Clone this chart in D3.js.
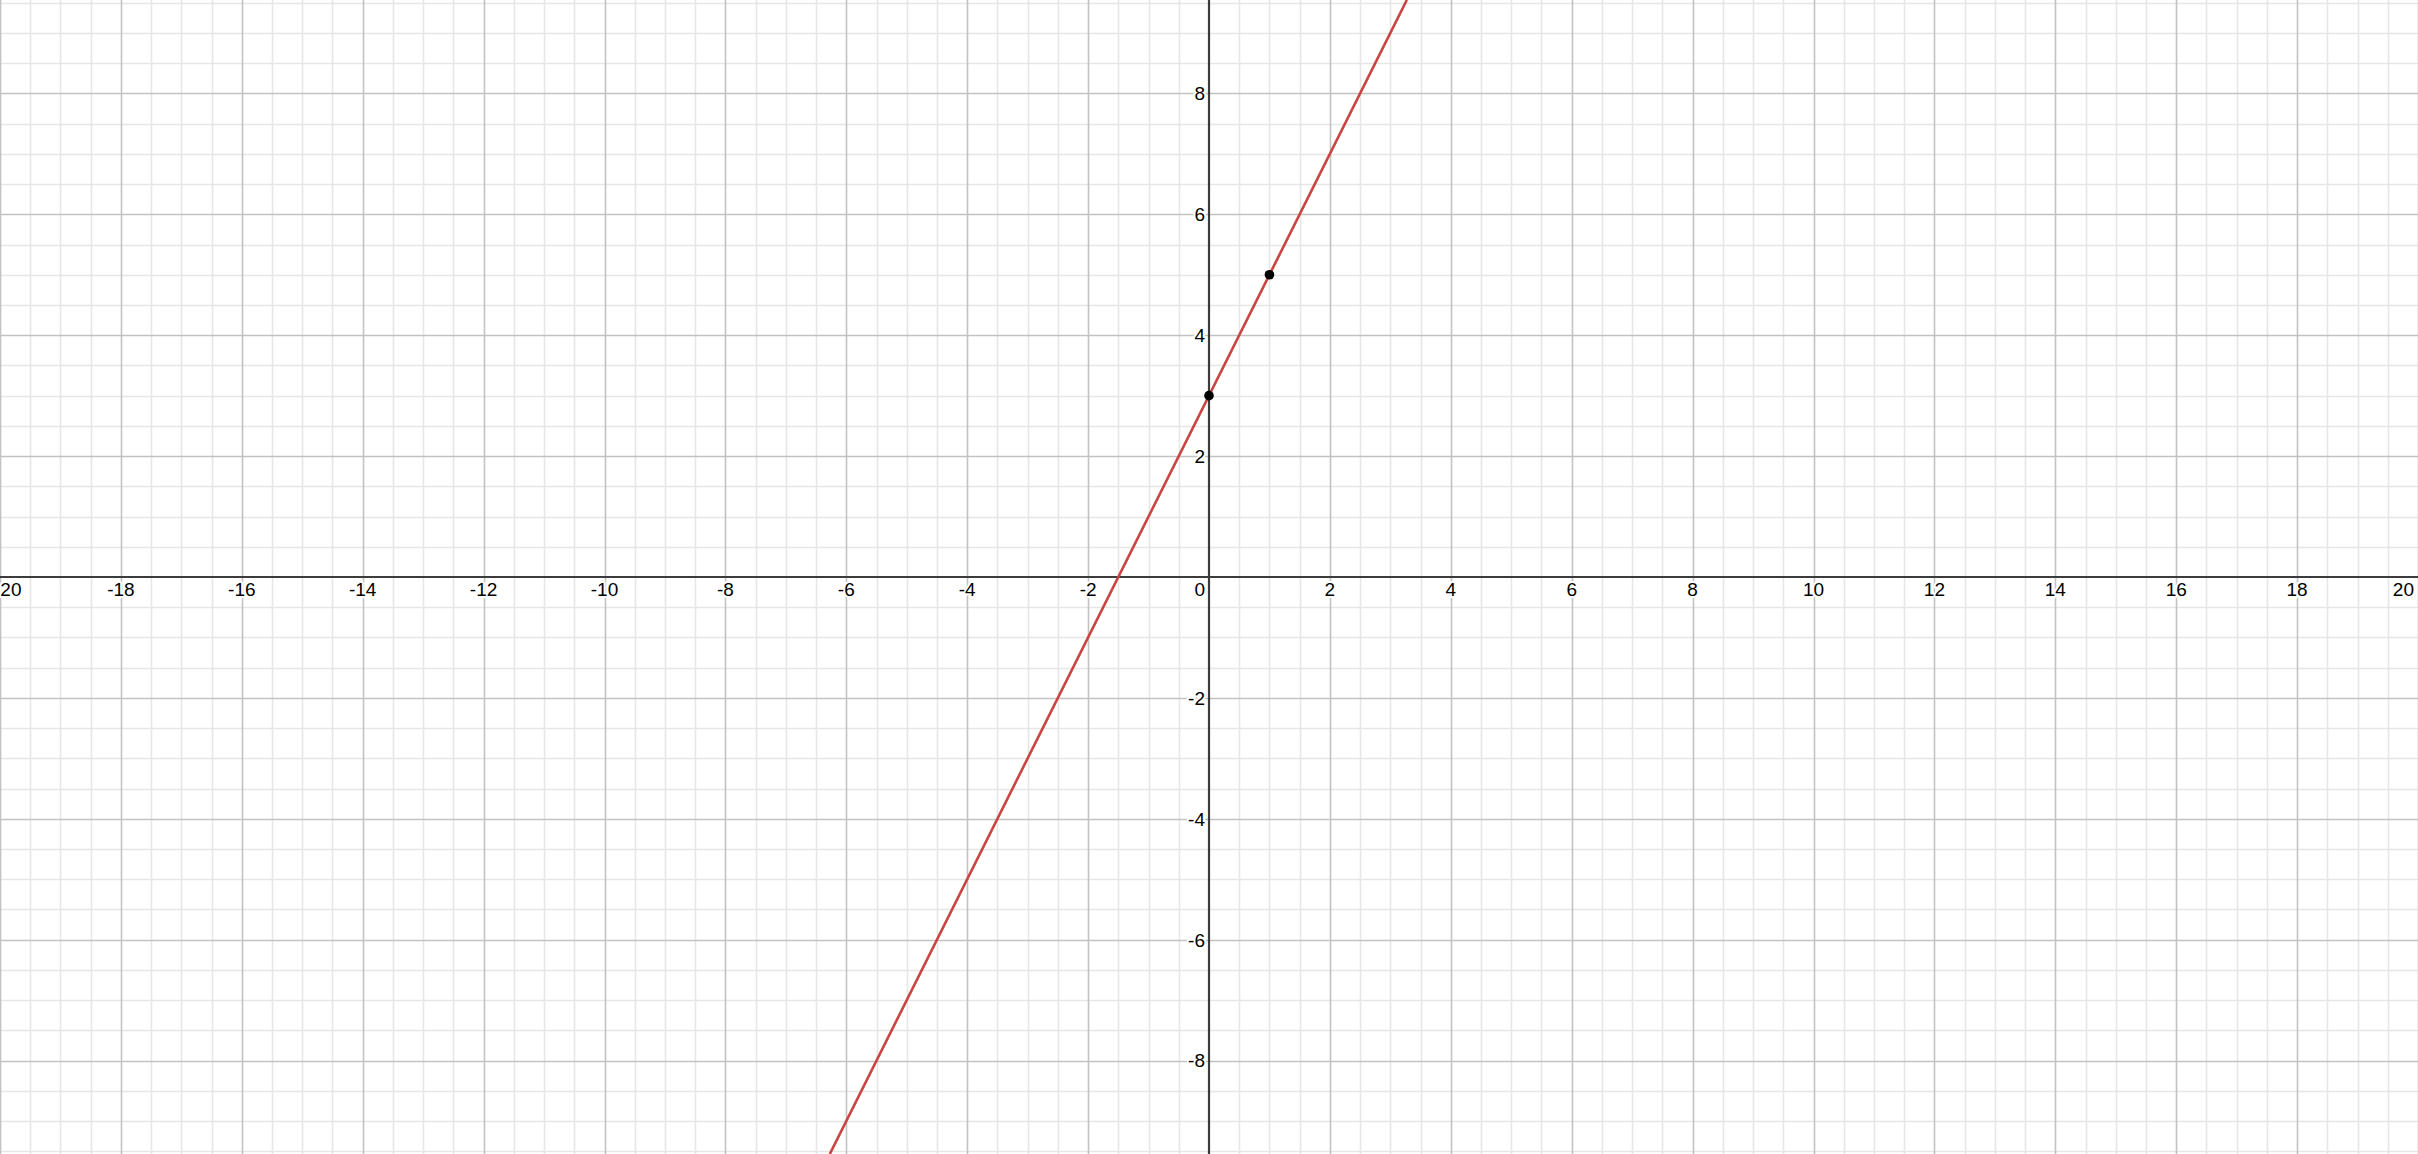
<!DOCTYPE html>
<html>
<head>
<meta charset="utf-8">
<script src="https://cdn.jsdelivr.net/npm/d3@7"></script>
<style>
html,body{margin:0;padding:0;background:#fff;overflow:hidden;}
svg{display:block;}
text{font-family:"Liberation Sans",Arial,sans-serif;}
</style>
</head>
<body>
<script>
// Data
const xDomain = [-20, 20];
const yDomain = [-9.545, 9.545];
const xTickLabels = [-20,-18,-16,-14,-12,-10,-8,-6,-4,-2,0,2,4,6,8,10,12,14,16,18,20];
const yTickLabels = [8,6,4,2,-2,-4,-6,-8];
const pointsX = [0, 1];
const pointsY = [3, 5];
const majorStep = 2;
const minorStep = 0.5;

const W = 2418, H = 1154;
const svg = d3.select("body").append("svg").attr("width", W).attr("height", H);
const x = d3.scaleLinear().domain(xDomain).range([0, W]);
const y = d3.scaleLinear().domain(yDomain).range([H, 0]);

function steps(lo, hi, s){ const a=[]; for(let v=Math.ceil(lo/s)*s; v<=hi+1e-9; v+=s) a.push(+v.toFixed(6)); return a; }
const isMajor = v => Math.abs(v/majorStep - Math.round(v/majorStep))<1e-6;
const minorX = steps(xDomain[0], xDomain[1], minorStep).filter(v => !isMajor(v));
const minorY = steps(yDomain[0], yDomain[1], minorStep).filter(v => !isMajor(v));
const majorX = steps(xDomain[0], xDomain[1], majorStep).filter(v=>v!==0);
const majorY = steps(yDomain[0], yDomain[1], majorStep).filter(v=>v!==0);

const g = svg.append("g");
// minor grid
g.selectAll(".mnx").data(minorX).join("line")
  .attr("x1", d=>Math.round(x(d))+0.5).attr("x2", d=>Math.round(x(d))+0.5).attr("y1",0).attr("y2",H)
  .attr("stroke","#e6e6e6").attr("stroke-width",1.6);
g.selectAll(".mny").data(minorY).join("line")
  .attr("y1", d=>Math.round(y(d))+0.5).attr("y2", d=>Math.round(y(d))+0.5).attr("x1",0).attr("x2",W)
  .attr("stroke","#e6e6e6").attr("stroke-width",1.6);
// major grid
g.selectAll(".mjx").data(majorX).join("line")
  .attr("x1", d=>Math.round(x(d))+0.5).attr("x2", d=>Math.round(x(d))+0.5).attr("y1",0).attr("y2",H)
  .attr("stroke","#c2c2c2").attr("stroke-width",1.6);
g.selectAll(".mjy").data(majorY).join("line")
  .attr("y1", d=>Math.round(y(d))+0.5).attr("y2", d=>Math.round(y(d))+0.5).attr("x1",0).attr("x2",W)
  .attr("stroke","#c2c2c2").attr("stroke-width",1.6);

// axes
g.append("line").attr("x1",0).attr("x2",W).attr("y1",y(0)).attr("y2",y(0)).attr("stroke","#3c3c3c").attr("stroke-width",2.2);
g.append("line").attr("y1",0).attr("y2",H).attr("x1",x(0)).attr("x2",x(0)).attr("stroke","#3c3c3c").attr("stroke-width",2.2);

// line through points
const slope = (pointsY[1]-pointsY[0])/(pointsX[1]-pointsX[0]);
const icpt = pointsY[0] - slope*pointsX[0];
const lx0 = (yDomain[0]-icpt)/slope, lx1 = (yDomain[1]-icpt)/slope;
g.append("line")
  .attr("x1", x(lx0)).attr("y1", y(slope*lx0+icpt))
  .attr("x2", x(lx1)).attr("y2", y(slope*lx1+icpt))
  .attr("stroke","#c74440").attr("stroke-width",2.6);

// points
g.selectAll(".pt").data(pointsX.map((d,i)=>[d,pointsY[i]])).join("circle")
  .attr("cx", d=>x(d[0])).attr("cy", d=>y(d[1])).attr("r",4.8).attr("fill","#000");

// labels
const fs = 19;
const lab = g.append("g").attr("font-size", fs).attr("fill","#000")
  .attr("stroke","#fff").attr("stroke-width",4).attr("paint-order","stroke").attr("stroke-linejoin","round");
lab.selectAll(".xl").data(xTickLabels).join("text")
  .attr("x", d => {
    if (d === 0) return x(0) - 4;
    if (d === xDomain[0]) return x(d) - 6;
    if (d === xDomain[1]) return x(d) - 4;
    return x(d);
  })
  .attr("text-anchor", d => d===0 ? "end" : d===xDomain[0] ? "start" : d===xDomain[1] ? "end" : "middle")
  .attr("y", y(0) + 19)
  .text(d => d < 0 ? "-" + Math.abs(d) : String(d));
lab.selectAll(".yl").data(yTickLabels).join("text")
  .attr("x", x(0) - 4).attr("y", d => y(d)).attr("dy","0.36em")
  .attr("text-anchor","end")
  .text(d => d < 0 ? "-" + Math.abs(d) : String(d));
</script>
</body>
</html>
